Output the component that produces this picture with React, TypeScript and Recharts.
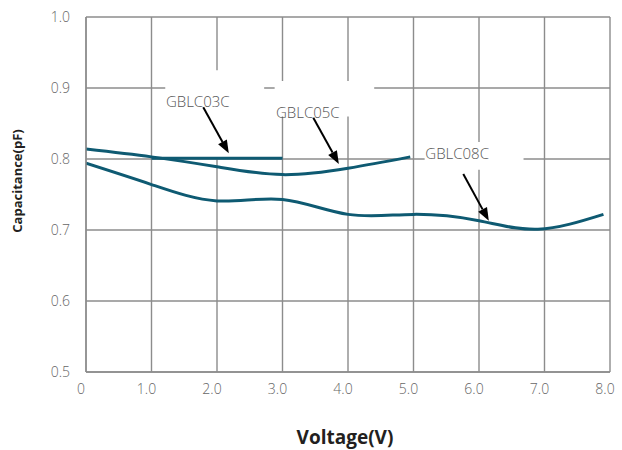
import React from 'react';
import { LineChart, Line, XAxis, YAxis, CartesianGrid, ReferenceArea, ReferenceLine, ReferenceDot } from 'recharts';

const xTicks = [0, 1, 2, 3, 4, 5, 6, 7, 8];
const yTicks = [0.5, 0.6, 0.7, 0.8, 0.9, 1.0];

const v03 = [1.0, 2.0, 3.0];
const c03 = [0.801, 0.801, 0.801];

const v05 = [0, 1.0, 2.0, 3.0, 4.0, 4.95];
const c05 = [0.814, 0.803, 0.789, 0.778, 0.787, 0.803];

const v08 = [0, 1.0, 2.0, 3.0, 4.0, 5.0, 6.0, 6.9, 7.9];
const c08 = [0.794, 0.764, 0.741, 0.743, 0.722, 0.722, 0.713, 0.701, 0.722];

const labels = ['GBLC03C', 'GBLC05C', 'GBLC08C'];

const toData = (xs: number[], ys: number[]) => xs.map((x, i) => ({ x, y: ys[i] }));
const d03 = toData(v03, c03);
const d05 = toData(v05, c05);
const d08 = toData(v08, c08);

const LINE = '#0e5a72';
const FONT = '"Open Sans", "Noto Sans", sans-serif';

const Arrow = (props: any) => {
  const { x1, y1, x2, y2 } = props;
  if ([x1, y1, x2, y2].some((v) => v === undefined || isNaN(v))) return null;
  const ang = Math.atan2(y2 - y1, x2 - x1);
  const L = 13, W = 5;
  const bx = x2 - L * Math.cos(ang);
  const by = y2 - L * Math.sin(ang);
  const px = -Math.sin(ang), py = Math.cos(ang);
  return (
    <g>
      <line x1={x1} y1={y1} x2={bx} y2={by} stroke="#000" strokeWidth={2} />
      <polygon points={`${x2},${y2} ${bx + px * W},${by + py * W} ${bx - px * W},${by - py * W}`} fill="#000" />
    </g>
  );
};

const LabelText = (text: string) => (props: any) => (
  <text x={props.cx} y={props.cy} dy="0.35em" fontSize={15} fontWeight={300} fill="#555" fontFamily={FONT} textAnchor="start">
    {text}
  </text>
);

export default function App() {
  return (
    <div style={{ position: 'absolute', left: 0, top: 0, background: '#fff' }}>
      <LineChart width={622} height={450} margin={{ top: 17, right: 12, left: 26, bottom: 38 }}>
        <CartesianGrid stroke="#8c8c8c" strokeWidth={1.4} horizontalValues={yTicks} verticalValues={xTicks} />
        <XAxis
          type="number"
          dataKey="x"
          domain={[0, 8]}
          ticks={xTicks}
          tickFormatter={(v: number) => (v === 0 ? '0' : v.toFixed(1))}
          axisLine={{ stroke: '#8c8c8c', strokeWidth: 1.4 }}
          tickLine={false}
          height={40}
          tick={{ fill: '#666', fontSize: 14, fontFamily: FONT, fontWeight: 300, dx: -5 }}
          tickMargin={6}
          allowDataOverflow
        />
        <YAxis
          type="number"
          domain={[0.5, 1.0]}
          ticks={yTicks}
          tickFormatter={(v: number) => v.toFixed(1)}
          axisLine={{ stroke: '#8c8c8c', strokeWidth: 1.4 }}
          tickLine={false}
          width={60}
          tick={{ fill: '#666', fontSize: 14, fontFamily: FONT, fontWeight: 300 }}
          tickMargin={10}
          allowDataOverflow
        />
        <ReferenceArea x1={1.21} x2={2.72} y1={0.8} y2={0.925} fill="#fff" fillOpacity={1} stroke="none" />
        <ReferenceArea x1={2.88} x2={4.4} y1={0.86} y2={0.91} fill="#fff" fillOpacity={1} stroke="none" />
        <ReferenceArea x1={5.17} x2={6.68} y1={0.785} y2={0.824} fill="#fff" fillOpacity={1} stroke="none" />
        <Line data={d05} dataKey="y" type="natural" stroke={LINE} strokeWidth={3} dot={false} isAnimationActive={false} />
        <Line data={d03} dataKey="y" type="linear" stroke={LINE} strokeWidth={3} dot={false} isAnimationActive={false} />
        <Line data={d08} dataKey="y" type="natural" stroke={LINE} strokeWidth={3} dot={false} isAnimationActive={false} />
        <ReferenceLine segment={[{ x: 1.79, y: 0.873 }, { x: 2.18, y: 0.808 }]} shape={Arrow} />
        <ReferenceLine segment={[{ x: 3.47, y: 0.858 }, { x: 3.86, y: 0.793 }]} shape={Arrow} />
        <ReferenceLine segment={[{ x: 5.76, y: 0.779 }, { x: 6.15, y: 0.713 }]} shape={Arrow} />
        <ReferenceDot x={1.22} y={0.880} r={0} shape={LabelText(labels[0])} />
        <ReferenceDot x={2.9} y={0.865} r={0} shape={LabelText(labels[1])} />
        <ReferenceDot x={5.18} y={0.807} r={0} shape={LabelText(labels[2])} />
        <text x={345} y={437} textAnchor="middle" dominantBaseline="central" fontSize={19} fontWeight="bold" fill="#231f20" fontFamily={FONT}>
          Voltage(V)
        </text>
        <text x={17} y={181} textAnchor="middle" dominantBaseline="central" fontSize={13} fontWeight="bold" fill="#231f20" fontFamily={FONT} transform="rotate(-90 17 181)">
          Capacitance(pF)
        </text>
      </LineChart>
    </div>
  );
}
